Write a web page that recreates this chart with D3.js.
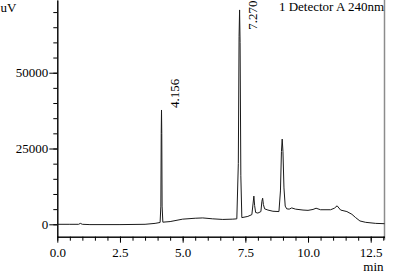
<!DOCTYPE html>
<html>
<head>
<meta charset="utf-8">
<script src="https://cdn.jsdelivr.net/npm/d3@7"></script>
<style>
  body { margin: 0; background: #fff; }
  svg text { font-family: "Liberation Serif", "Times New Roman", serif; font-size: 13px; fill: #000; }
</style>
</head>
<body>
<div id="chart"></div>
<script>
// chromatogram trace (time in min, signal in uV)
var times = [0.0, 0.5, 0.85, 0.92, 1.0, 1.3, 2.5, 3.5, 3.9, 4.10, 4.13, 4.145, 4.156, 4.167, 4.18, 4.21,
             4.5, 5.0, 5.5, 5.8, 6.2, 6.6, 7.0, 7.16, 7.22, 7.25, 7.27, 7.29, 7.32, 7.36,
             7.6, 7.76, 7.81, 7.84, 7.87, 7.91, 8.0, 8.12, 8.16, 8.19, 8.22, 8.27, 8.4, 8.6, 8.84,
             8.9, 8.94, 8.97, 9.0, 9.04, 9.09, 9.15, 9.25, 9.35, 9.5, 9.8, 10.0, 10.2, 10.32, 10.5,
             10.9, 11.05, 11.16, 11.3, 11.55, 11.75, 11.9, 12.07, 12.3, 12.7, 13.05];
var signal = [0, 0, 0, 300, 0, -100, -100, 0, 300, 600, 6000, 30000, 37700, 30000, 6000, 700,
              900, 1700, 2000, 2100, 1800, 1600, 1700, 1800, 20000, 62000, 70700, 60000, 16000, 2200,
              2600, 3200, 7000, 9300, 6200, 3900, 3700, 4200, 7600, 8600, 6500, 5100, 4700, 4300, 4200,
              11000, 24000, 28100, 24000, 12000, 6000, 5100, 5000, 5400, 5000, 4700, 4600, 4900, 5300, 4800,
              4800, 5300, 6100, 4700, 4200, 3300, 2200, 1100, 650, 300, 200];

// labelled peaks
var peakTimes = [4.156, 7.270];
var peakHeights = [37700, 70700];
var peakLabels = ["4.156", "7.270"];

var xMajor = [0, 2.5, 5, 7.5, 10, 12.5];
var xMinor = d3.range(0, 13.01, 0.5);
var yMajor = [0, 25000, 50000];
var yMinor = d3.range(0, 70001, 5000);

const chartW = 393,
      chartH = 280,
      padLeft = 57.3,
      padRight = 384.5,
      padTop = 0,
      axisY = 236.7,
      serif = "'Liberation Serif', 'Times New Roman', serif"

var x = d3.scaleLinear().domain([0, 13.05]).range([padLeft, padRight]);
var y = d3.scaleLinear().domain([-4090, 73980]).range([axisY, padTop]);

var svg = d3.select("#chart")
    .append("svg")
    .attr("width", chartW)
    .attr("height", chartH);

// right frame line
svg.append("line")
    .attr("x1", padRight).attr("x2", padRight)
    .attr("y1", 0).attr("y2", axisY + 3)
    .style("stroke", "#8c8c8c")
    .style("stroke-width", 1.5);

// minor ticks
svg.append("g")
    .attr("transform", "translate(0," + axisY + ")")
    .call(d3.axisBottom(x).tickValues(xMinor).tickSize(4).tickSizeOuter(0).tickFormat(""));
svg.append("g")
    .attr("transform", "translate(" + padLeft + ",0)")
    .call(d3.axisLeft(y).tickValues(yMinor).tickSize(4).tickSizeOuter(0).tickFormat(""));

// major ticks + labels
svg.append("g")
    .attr("transform", "translate(0," + axisY + ")")
    .call(d3.axisBottom(x).tickValues(xMajor).tickSize(6).tickPadding(5).tickSizeOuter(0).tickFormat(d3.format(".1f")))
    .attr("font-family", serif)
    .attr("font-size", 13);
svg.append("g")
    .attr("transform", "translate(" + padLeft + ",0)")
    .call(d3.axisLeft(y).tickValues(yMajor).tickSize(8).tickPadding(1).tickSizeOuter(0).tickFormat(d3.format("d")))
    .attr("font-family", serif)
    .attr("font-size", 13);

svg.selectAll(".domain, .tick line").style("stroke", "#000");

// trace
var pts = times.map(function(t, i){ return [t, signal[i]] });
svg.append("path")
    .datum(pts)
    .attr("d", d3.line().x(d => x(d[0])).y(d => y(d[1])))
    .style("fill", "none")
    .style("stroke", "#1a1a1a")
    .style("stroke-width", 1);

// peak labels, rotated, clamped to the top of the plot
peakTimes.forEach(function(t, i){
    var lab = svg.append("text")
        .text(peakLabels[i])
        .attr("text-anchor", "start");
    var len = lab.node().getComputedTextLength();
    var ys = Math.max(y(peakHeights[i]) - 2, len + 0.5);
    lab.attr("transform", "translate(" + (x(t) + 17.5) + "," + ys + ") rotate(-90)");
});

// titles
svg.append("text").attr("x", 0.5).attr("y", 11.5).attr("text-anchor", "start").text("uV");
svg.append("text").attr("x", 383.5).attr("y", 271).attr("text-anchor", "end").text("min");
svg.append("text").attr("x", 384).attr("y", 11).attr("text-anchor", "end").text("1 Detector A 240nm");
</script>
</body>
</html>
